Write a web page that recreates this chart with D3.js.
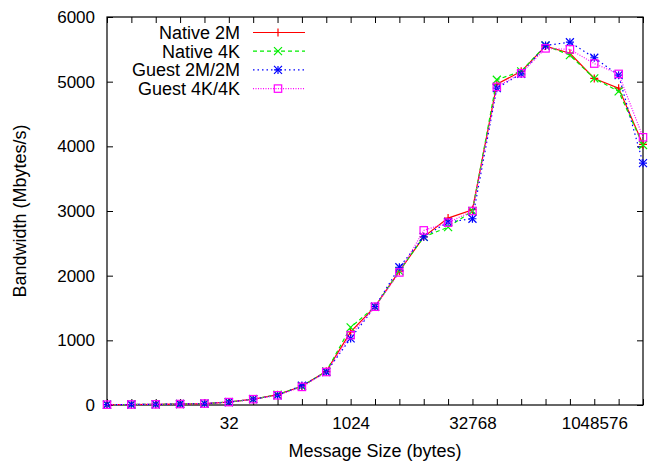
<!DOCTYPE html>
<html>
<head>
<meta charset="utf-8">
<script src="https://cdn.jsdelivr.net/npm/d3@7"></script>
<style>
  body { margin: 0; background: #fff; }
  text { font-family: "Liberation Sans", Arial, sans-serif; }
</style>
</head>
<body>
<svg id="chart" width="657" height="462"></svg>
<script>
// --- data: message size = 2^exponent bytes ---
const exponents = d3.range(0, 23);
const labelledSizes = [32, 1024, 32768, 1048576];
const yTicks = [0, 1000, 2000, 3000, 4000, 5000, 6000];

const native2M = [5, 8, 10, 15, 22, 45, 90, 160, 290, 520, 1130, 1520, 2070, 2600, 2890, 3020, 4960, 5160, 5550, 5440, 5050, 4900, 4030];
const native4K = [5, 8, 10, 15, 22, 45, 90, 160, 290, 520, 1200, 1520, 2070, 2600, 2750, 3000, 5030, 5160, 5560, 5410, 5050, 4850, 4020];
const guest2M  = [5, 8, 10, 15, 22, 45, 90, 150, 300, 510, 1030, 1520, 2130, 2600, 2830, 2880, 4900, 5120, 5560, 5610, 5370, 5100, 3740];
const guest4K  = [5, 8, 10, 15, 22, 45, 90, 150, 280, 510, 1080, 1520, 2050, 2700, 2820, 3000, 4920, 5130, 5515, 5500, 5280, 5120, 4140];

const series = [
  {name: "Native 2M",    values: native2M, color: "#ff0000", dash: null,  marker: "plus"},
  {name: "Native 4K",    values: native4K, color: "#00ee00", dash: "4,3", marker: "cross"},
  {name: "Guest 2M/2M",  values: guest2M,  color: "#0000ff", dash: "1.5,3", marker: "star"},
  {name: "Guest 4K/4K",  values: guest4K,  color: "#ff00ff", dash: "1,1.5", marker: "square"}
];

// --- frame ---
const svg = d3.select("#chart"),
      margin = {top: 17, right: 14, bottom: 57, left: 107},
      width = +svg.attr("width") - margin.left - margin.right,
      height = +svg.attr("height") - margin.top - margin.bottom;

const g = svg.append("g")
             .attr("transform", `translate(${margin.left},${margin.top})`);

const x = d3.scaleLog().base(2)
            .domain([1, Math.pow(2, 22)])
            .range([0, width]);

const y = d3.scaleLinear()
            .domain([0, 6000])
            .range([height, 0]);

const sizes = exponents.map(e => Math.pow(2, e));
const fmtX = d => labelledSizes.includes(d) ? String(d) : "";

// --- axes (gnuplot style: inward ticks, mirrored) ---
function styleAxis(sel) {
  sel.selectAll("text").style("font-size", "17px").style("fill", "#000");
  sel.selectAll("line").attr("stroke", "#000");
  sel.select(".domain").remove();
}

g.append("g")
 .attr("transform", `translate(0,${height})`)
 .call(d3.axisBottom(x).tickValues(sizes).tickFormat(fmtX).tickSize(-6).tickPadding(12))
 .call(styleAxis);

g.append("g")
 .call(d3.axisTop(x).tickValues(sizes).tickFormat("").tickSize(-6))
 .call(styleAxis);

g.append("g")
 .call(d3.axisLeft(y).tickValues(yTicks).tickFormat(d3.format("d")).tickSize(-6).tickPadding(12))
 .call(styleAxis);

g.append("g")
 .attr("transform", `translate(${width},0)`)
 .call(d3.axisRight(y).tickValues(yTicks).tickFormat("").tickSize(-6))
 .call(styleAxis);

g.append("rect")
 .attr("width", width).attr("height", height)
 .attr("fill", "none").attr("stroke", "#000").attr("stroke-width", 1.2);

// --- markers ---
function drawMarker(sel, type, color) {
  const s = 4;
  if (type === "plus" || type === "star") {
    sel.append("path").attr("d", `M${-s},0H${s}M0,${-s}V${s}`);
  }
  if (type === "cross" || type === "star") {
    sel.append("path").attr("d", `M${-s},${-s}L${s},${s}M${-s},${s}L${s},${-s}`);
  }
  if (type === "square") {
    sel.append("rect").attr("x", -3.7).attr("y", -3.7).attr("width", 7.4).attr("height", 7.4);
  }
  sel.selectAll("path, rect").attr("fill", "none").attr("stroke", color).attr("stroke-width", 1.2);
}

// --- lines ---
const line = d3.line()
  .x((d, i) => x(sizes[i]))
  .y(d => y(d));

series.forEach(s => {
  g.append("path")
   .datum(s.values)
   .attr("d", line)
   .attr("fill", "none")
   .attr("stroke", s.color)
   .attr("stroke-width", 1.2)
   .attr("stroke-dasharray", s.dash);

  g.selectAll(null)
   .data(s.values)
   .enter().append("g")
     .attr("transform", (d, i) => `translate(${x(sizes[i])},${y(d)})`)
     .each(function() { drawMarker(d3.select(this), s.marker, s.color); });
});

// --- legend ---
const legend = g.append("g").attr("transform", "translate(0,15.5)");
series.forEach((s, i) => {
  const row = legend.append("g").attr("transform", `translate(0,${i * 18.7})`);
  row.append("text")
     .attr("x", 133).attr("y", 6.5)
     .attr("text-anchor", "end")
     .style("font-size", "18px")
     .text(s.name);
  row.append("line")
     .attr("x1", 146).attr("x2", 198)
     .attr("stroke", s.color).attr("stroke-width", 1.2)
     .attr("stroke-dasharray", s.dash);
  drawMarker(row.append("g").attr("transform", "translate(171,0)"), s.marker, s.color);
});

// --- axis titles ---
svg.append("text")
   .attr("x", margin.left + width / 2).attr("y", 457)
   .attr("text-anchor", "middle")
   .style("font-size", "18px")
   .text("Message Size (bytes)");

svg.append("text")
   .attr("transform", `translate(26,${margin.top + height / 2}) rotate(-90)`)
   .attr("text-anchor", "middle")
   .style("font-size", "18px")
   .text("Bandwidth (Mbytes/s)");
</script>
</body>
</html>
